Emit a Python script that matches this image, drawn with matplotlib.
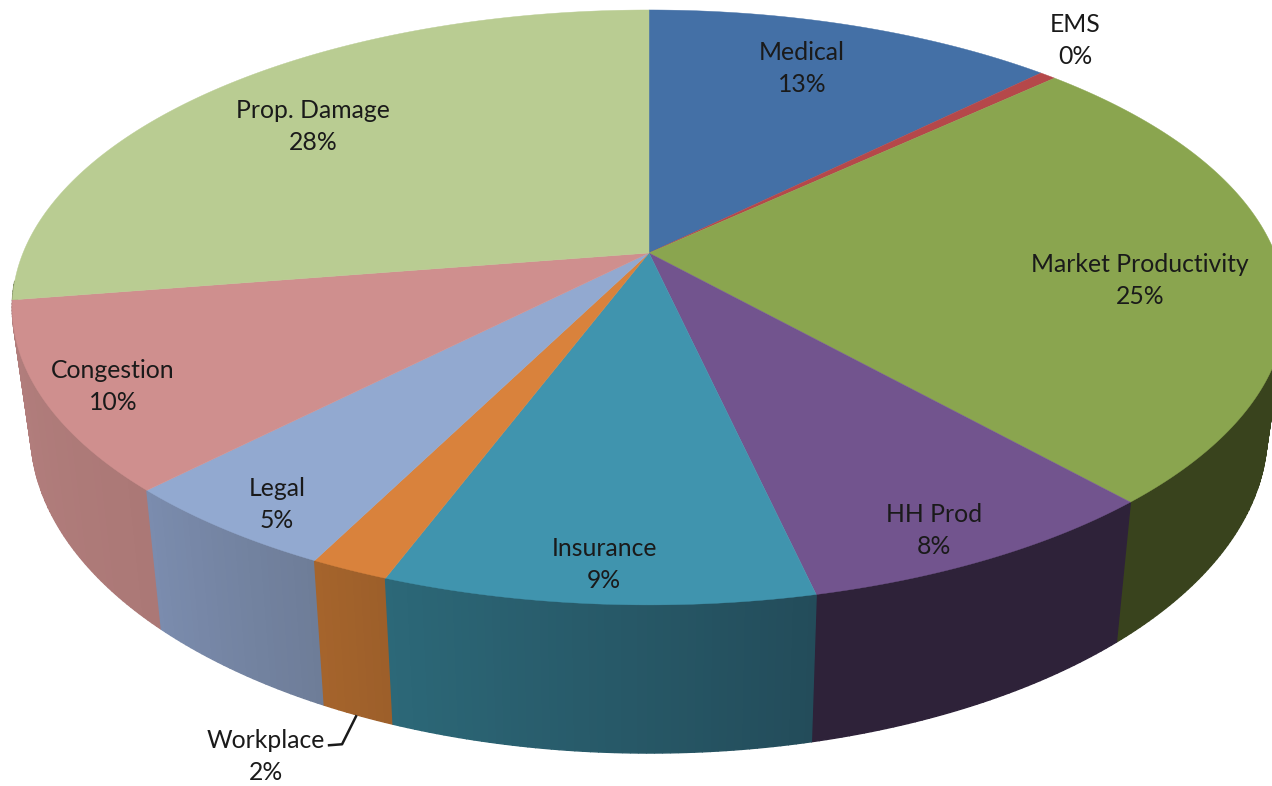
#!/usr/bin/env python3

import numpy as np
import matplotlib
matplotlib.use('Agg')
import matplotlib.pyplot as plt
from matplotlib.colors import to_rgb

categories = ['Medical', 'EMS', 'Market Productivity', 'HH Prod', 'Insurance',
              'Workplace', 'Legal', 'Congestion', 'Prop. Damage']
shares = [12.5, 0.5, 25.45, 8.03, 9.19, 1.7, 4.9, 10.2, 27.53]
labels = ['13%', '0%', '25%', '8%', '9%', '2%', '5%', '10%', '28%']
top_colors = ['#4470a6', '#b5484a', '#8aa54f', '#72548e', '#4094ae',
              '#d9823c', '#92a9d0', '#cf8f8e', '#b9cc92']
wall_left = ['#2a4565', '#6e2c2d', '#39431d', '#2e2239', '#2c6878',
             '#a5642c', '#7b8cae', '#b37f7e', '#7c8a60']
wall_right = ['#2a4565', '#6e2c2d', '#39431d', '#2e2239', '#234c5a',
              '#9c5f2a', '#6e7d98', '#ab7876', '#7c8a60']
label_pos = [(802, 67), (1075, 38), (1140, 279), (934, 529), (604, 562),
             (266, 755), (277, 503), (113, 384), (313, 125)]

W, H = 1272, 786
CX, CY = 649, 253
FX, FY, PERSP = 626, 287.5, 0.183


def top_rim(theta):
    # circle on the pie's top plane, seen in perspective
    x, y = np.sin(theta), np.cos(theta)
    d = 1 + PERSP * y
    return CX + FX * x / d, CY - FY * y / d


def bottom_rim(theta):
    x, y = top_rim(theta)
    return CX + (x - CX) * 0.971, y + 140 + 0.08 * (y - 503)


fig = plt.figure(figsize=(W / 100, H / 100), dpi=100)
ax = fig.add_axes([0, 0, 1, 1])
ax.set_xlim(0, W)
ax.set_ylim(H, 0)
ax.axis('off')

edges = np.deg2rad(np.cumsum([0] + shares) * 3.6)

# side walls, back to front so the nearest piece lands on top
pieces = []
for i in range(len(shares)):
    t = np.linspace(edges[i], edges[i + 1], max(4, int(shares[i] * 6)))
    left, right = np.array(to_rgb(wall_left[i])), np.array(to_rgb(wall_right[i]))
    for j in range(len(t) - 1):
        # start angle runs right to left along the front, so mix from the right colour
        mix = (j + 0.5) / (len(t) - 1)
        col = right * (1 - mix) + left * mix
        # the far side of the rim is hidden, skip it
        if np.cos(t[j]) < -0.1:
            pieces.append((np.cos(t[j]), t[j], t[j + 1], col))
for _, a, b, col in sorted(pieces, key=lambda p: -p[0]):
    tx, ty = top_rim(np.array([a, b]))
    bx, by = bottom_rim(np.array([b, a]))
    ax.fill(np.r_[tx, bx], np.r_[ty, by], color=col, lw=1.0, zorder=1)

# top faces
for i in range(len(shares)):
    t = np.linspace(edges[i], edges[i + 1], 120)
    x, y = top_rim(t)
    ax.fill(np.r_[CX, x], np.r_[CY, y], color=top_colors[i], lw=0.3, zorder=2)

for name, pct, (px, py) in zip(categories, labels, label_pos):
    ax.text(px, py - 14, name, ha='center', va='center', fontsize=17.8,
            family='Lato', color='#1a1a1a', zorder=3)
    ax.text(px, py + 18, pct, ha='center', va='center', fontsize=17.8,
            family='Lato', color='#1a1a1a', zorder=3)

# leader for the Workplace label
wx, wy = bottom_rim(edges[5] + (edges[6] - edges[5]) * 0.5)
ax.plot([wx - 2, wx - 16, wx - 29], [wy + 1, wy + 29, wy + 30], color='#1a1a1a', lw=1.8, zorder=3)

fig.savefig('out.png', dpi=100)
